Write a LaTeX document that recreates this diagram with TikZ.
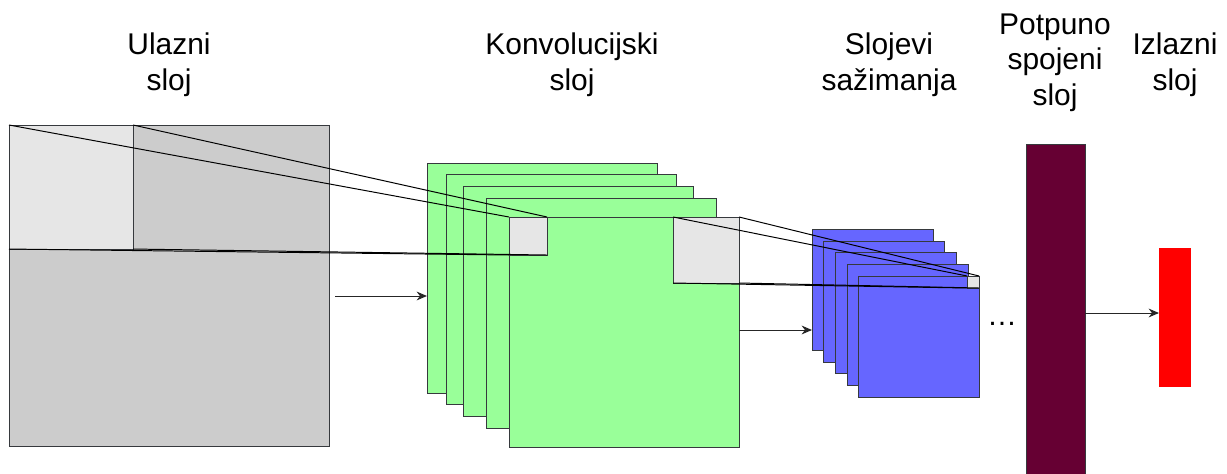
\documentclass[tikz,border=0pt]{standalone}
\usepackage{fontspec}
\setmainfont{Liberation Sans}
\usetikzlibrary{arrows.meta}
\definecolor{inputgray}{RGB}{204,204,204}
\definecolor{patch}{RGB}{230,230,230}
\definecolor{convgreen}{RGB}{153,255,153}
\definecolor{poolblue}{RGB}{102,102,255}
\definecolor{plum}{RGB}{102,0,51}
\definecolor{outred}{RGB}{255,0,0}
\definecolor{edge}{RGB}{54,57,61}
\tikzset{
  >={Stealth[length=2.6mm,width=2.2mm]},
  sheet/.style={draw=edge,fill=#1,line width=0.7pt,anchor=north west,
    inner sep=0pt,outer sep=0pt},
  sheet/.default=inputgray,
  link/.style={black,line width=0.7pt},
  flow/.style={->,black!85,line width=0.7pt},
  caption/.style={font=\fontsize{21.3}{24.9}\selectfont,align=center,anchor=base},
}

\begin{document}
\begin{tikzpicture}[x=0.025cm,y=-0.025cm]
  \useasboundingbox (0,0) rectangle (1227,473);
  % input layer
  \node[sheet=inputgray,minimum width=8cm,minimum height=8.025cm] (in) at (9,125) {};
  \node[sheet=patch,minimum size=3.1cm] (lt) at (9,125) {};
  % convolution maps
  \foreach \x/\y [count=\i] in {427/163,446/174,463/186,486/198,509/217}
    \node[sheet=convgreen,minimum size=5.75cm] (g\i) at (\x,\y) {};
  \node[sheet=patch,minimum size=0.95cm] (gs) at (g5.north west) {};
  \node[sheet=patch,minimum size=1.65cm,anchor=north east] (gb) at (g5.north east) {};
  % pooling maps
  \foreach \x/\y [count=\i] in {812/229,823/241,835/252,847/264,858/276}
    \node[sheet=poolblue,minimum size=3.025cm] (b\i) at (\x,\y) {};
  \node[sheet=patch,minimum size=0.3cm,anchor=north east] (bs) at (b5.north east) {};
  % dense and output
  \node[sheet=plum,minimum width=1.475cm,minimum height=8.5cm] (fc) at (1026,144) {};
  \node[sheet=outred,draw=outred,minimum width=0.775cm,minimum height=3.45cm] (out) at (1159,248) {};
  \node[caption,anchor=center] (dots) at (1002,324) {…};
  % receptive fields
  \foreach \c in {north west,north east,south west,south east}{
    \draw[link] (lt.\c) -- (gs.\c);
    \draw[link] (gb.\c) -- (bs.\c);
  }
  \coordinate (a1) at (335,296);
  \coordinate (a2) at (739,330);
  \coordinate (a3) at (1085,313);
  \draw[flow] (a1) -- (a1 -| g1.west);
  \draw[flow] (a2) -- (a2 -| b1.west);
  \draw[flow] (a3) -- (a3 -| out.west);
  % titles
  \node[caption] (t1) at (169,90) {Ulazni\\sloj};
  \node[caption] (t2) at (572,90) {Konvolucijski\\sloj};
  \node[caption] (t3) at (889,90) {Slojevi\\sažimanja};
  \node[caption] (t4) at (1055,105) {Potpuno\\spojeni\\sloj};
  \node[caption] (t5) at (1175,90) {Izlazni\\sloj};
\end{tikzpicture}
\end{document}
